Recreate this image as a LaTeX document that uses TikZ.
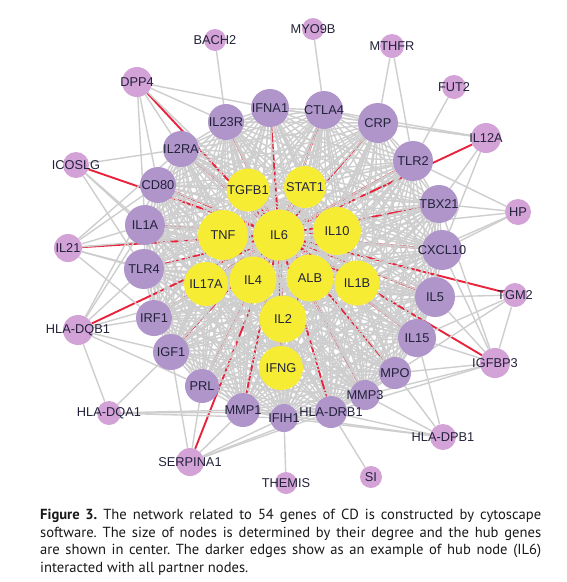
\documentclass[tikz,border=0pt]{standalone}
\usepackage{fontspec}
\setmainfont{Liberation Sans}
\newfontfamily\capfont{PT Sans}
\usetikzlibrary{backgrounds}
\frenchspacing
\definecolor{hubY}{HTML}{F6EC34}
\definecolor{midP}{HTML}{AF95CA}
\definecolor{smlP}{HTML}{D3A2D6}
\definecolor{labC}{HTML}{22223A}
\definecolor{edgeG}{HTML}{CECECE}
\definecolor{edgeR}{HTML}{E8243C}
\newcommand\gene[5]{\node[#1,minimum size=#4,label={[lbl,name=#2t]center:#5}] (#2) at (#3) {};}
\begin{document}
\begin{tikzpicture}[x=1pt,y=-1pt,
  gnode/.style={circle,inner sep=0pt,draw=none},
  hub/.style={gnode,fill=hubY},
  mid/.style={gnode,fill=midP},
  sml/.style={gnode,fill=smlP},
  lbl/.style={font=\fontsize{12.8}{12.8}\selectfont,text=labC,inner sep=0pt},
  gedge/.style={draw=edgeG,line width=1.4pt},
  redge/.style={draw=edgeR,line width=1.9pt},
  capstyle/.style={font=\capfont\fontsize{14.6}{17.7}\selectfont,text=black!90,inner sep=0pt}]
\useasboundingbox (0,0) rectangle (566,582);
\begin{scope}[on background layer]
\fill[white] (0,0) rectangle (566,582);
\end{scope}
% hubs
\gene{hub}{TGFB1}{248,190}{43}{TGFB1}
\gene{hub}{STAT1}{305,187}{42}{STAT1}
\gene{hub}{TNF}{223,235}{50}{TNF}
\gene{hub}{IL6}{279,235}{51}{IL6}
\gene{hub}{IL10}{337,231}{48}{IL10}
\gene{hub}{IL17A}{206,284}{44}{IL17A}
\gene{hub}{IL4}{253,280}{47}{IL4}
\gene{hub}{ALB}{310,278}{47}{ALB}
\gene{hub}{IL1B}{357,283}{45}{IL1B}
\gene{hub}{IL2}{283,319}{47}{IL2}
\gene{hub}{IFNG}{281,368}{44}{IFNG}
% middle ring
\gene{mid}{IL23R}{226,122}{36}{IL23R}
\gene{mid}{IFNA1}{270,108}{38}{IFNA1}
\gene{mid}{CTLA4}{324,110}{38}{CTLA4}
\gene{mid}{CRP}{378,123}{40}{CRP}
\gene{mid}{TLR2}{413,161}{40}{TLR2}
\gene{mid}{TBX21}{439,204}{38}{TBX21}
\gene{mid}{CXCL10}{442,250}{40}{CXCL10}
\gene{mid}{IL5}{435,297}{40}{IL5}
\gene{mid}{IL15}{417,338}{38}{IL15}
\gene{mid}{MPO}{395,373}{32}{MPO}
\gene{mid}{MMP3}{365,395}{30}{MMP3}
\gene{mid}{HLADRB1}{331,412}{32}{HLA-DRB1}
\gene{mid}{IFIH1}{284,418}{28}{IFIH1}
\gene{mid}{MMP1}{243,410}{34}{MMP1}
\gene{mid}{PRL}{202,386}{34}{PRL}
\gene{mid}{IGF1}{171,352}{36}{IGF1}
\gene{mid}{IRF1}{154,318}{36}{IRF1}
\gene{mid}{TLR4}{144,269}{40}{TLR4}
\gene{mid}{IL1A}{145,225}{40}{IL1A}
\gene{mid}{CD80}{158,185}{36}{CD80}
\gene{mid}{IL2RA}{181,149}{36}{IL2RA}
% outer small
\gene{sml}{BACH2}{215,40}{22}{BACH2}
\gene{sml}{MYO9B}{313,29}{22}{MYO9B}
\gene{sml}{MTHFR}{392,46}{24}{MTHFR}
\gene{sml}{FUT2}{454,87}{24}{FUT2}
\gene{sml}{DPP4}{137,82}{30}{DPP4}
\gene{sml}{IL12A}{486,138}{30}{IL12A}
\gene{sml}{ICOSLG}{76,165}{26}{ICOSLG}
\gene{sml}{HP}{518,212}{26}{HP}
\gene{sml}{IL21}{68,248}{28}{IL21}
\gene{sml}{TGM2}{515,295}{24}{TGM2}
\gene{sml}{HLADQB1}{78,330}{30}{HLA-DQB1}
\gene{sml}{IGFBP3}{495,363}{30}{IGFBP3}
\gene{sml}{HLADQA1}{109,413}{24}{HLA-DQA1}
\gene{sml}{HLADPB1}{443,437}{26}{HLA-DPB1}
\gene{sml}{SERPINA1}{190,462}{28}{SERPINA1}
\gene{sml}{THEMIS}{286,483}{22}{THEMIS}
\gene{sml}{SI}{371,477}{22}{SI}
% edges
\begin{scope}[on background layer]
\def\corelist{TGFB1,STAT1,TNF,IL6,IL10,IL17A,IL4,ALB,IL1B,IL2,IFNG,IL23R,IFNA1,CTLA4,CRP,TLR2,TBX21,CXCL10,IL5,IL15,MPO,MMP3,HLADRB1,IFIH1,MMP1,PRL,IGF1,IRF1,TLR4,IL1A,CD80,IL2RA}
% first half of the dense core edges
\foreach \a [count=\i] in \corelist {
  \foreach \b [count=\j] in \corelist {
    \ifnum\j>\i \ifodd\numexpr\i+\j\relax \draw[gedge] (\a) -- (\b); \fi\fi
  }
}
% hub IL6 edges
\foreach \b in {DPP4,ICOSLG,IL23R,IFNA1,IL2RA,CD80,CTLA4,CRP,TLR2,IL12A,TBX21,CXCL10,TGM2,IL5,IL15,IGFBP3,MPO,MMP3,HLADRB1,MMP1,SERPINA1,IGF1,IRF1,HLADQB1,TLR4,IL1A,IL21,PRL,TGFB1,STAT1,TNF,IL10,IL17A,IL4,ALB,IL1B,IL2,IFNG}
  {\draw[redge] (IL6) -- (\b);}
% second half of the dense core edges
\foreach \a [count=\i] in \corelist {
  \foreach \b [count=\j] in \corelist {
    \ifnum\j>\i \ifodd\numexpr\i+\j\relax\else \draw[gedge] (\a) -- (\b); \fi\fi
  }
}
\foreach \a/\b in {BACH2/IL23R,MYO9B/CTLA4,MTHFR/CRP,MTHFR/TLR2,FUT2/TLR2,
  DPP4/IFNA1,DPP4/IL23R,DPP4/IL2RA,DPP4/CD80,DPP4/IL1A,DPP4/TGFB1,
  ICOSLG/IL2RA,ICOSLG/IL1A,ICOSLG/TLR4,ICOSLG/IL17A,
  IL21/CD80,IL21/IL1A,IL21/TNF,IL21/TLR4,IL21/IL17A,IL21/IRF1,IL21/IL2RA,
  HLADQB1/CD80,HLADQB1/IL1A,HLADQB1/TLR4,HLADQB1/IRF1,HLADQB1/IGF1,HLADQB1/HLADQA1,HLADQB1/IL4,HLADQB1/PRL,
  HLADQA1/IGF1,HLADQA1/MMP1,HLADQA1/IFIH1,HLADQA1/HLADRB1,
  SERPINA1/IGF1,SERPINA1/PRL,SERPINA1/MMP1,SERPINA1/IFIH1,SERPINA1/HLADRB1,SERPINA1/MMP3,
  THEMIS/IFIH1,SI/HLADRB1,
  HLADPB1/MPO,HLADPB1/MMP3,HLADPB1/HLADRB1,HLADPB1/IFIH1,HLADPB1/IL15,HLADPB1/MMP1,
  IGFBP3/IL5,IGFBP3/IL15,IGFBP3/MPO,IGFBP3/MMP3,IGFBP3/CXCL10,IGFBP3/TGM2,IGFBP3/TBX21,IGFBP3/HLADRB1,
  TGM2/IL5,TGM2/IL15,TGM2/MPO,
  HP/TLR2,HP/TBX21,HP/CXCL10,HP/IL10,HP/IL1B,
  IL12A/CRP,IL12A/TBX21,IL12A/CXCL10,IL12A/CTLA4,IL12A/IFNA1}
  {\draw[gedge] (\a) -- (\b);}
\end{scope}
% caption
\node[capstyle,anchor=base west] (cap1) at (40,519) {\makebox[501pt][s]{\textbf{Figure 3.} The network related to 54 genes of CD is constructed by cytoscape}};
\node[capstyle,anchor=base west] (cap2) at (40,537) {\makebox[501pt][s]{software. The size of nodes is determined by their degree and the hub genes}};
\node[capstyle,anchor=base west] (cap3) at (40,554) {\makebox[501pt][s]{are shown in center. The darker edges show as an example of hub node (IL6)}};
\node[capstyle,anchor=base west] (cap4) at (40,572) {interacted with all partner nodes.};
\end{tikzpicture}
\end{document}
